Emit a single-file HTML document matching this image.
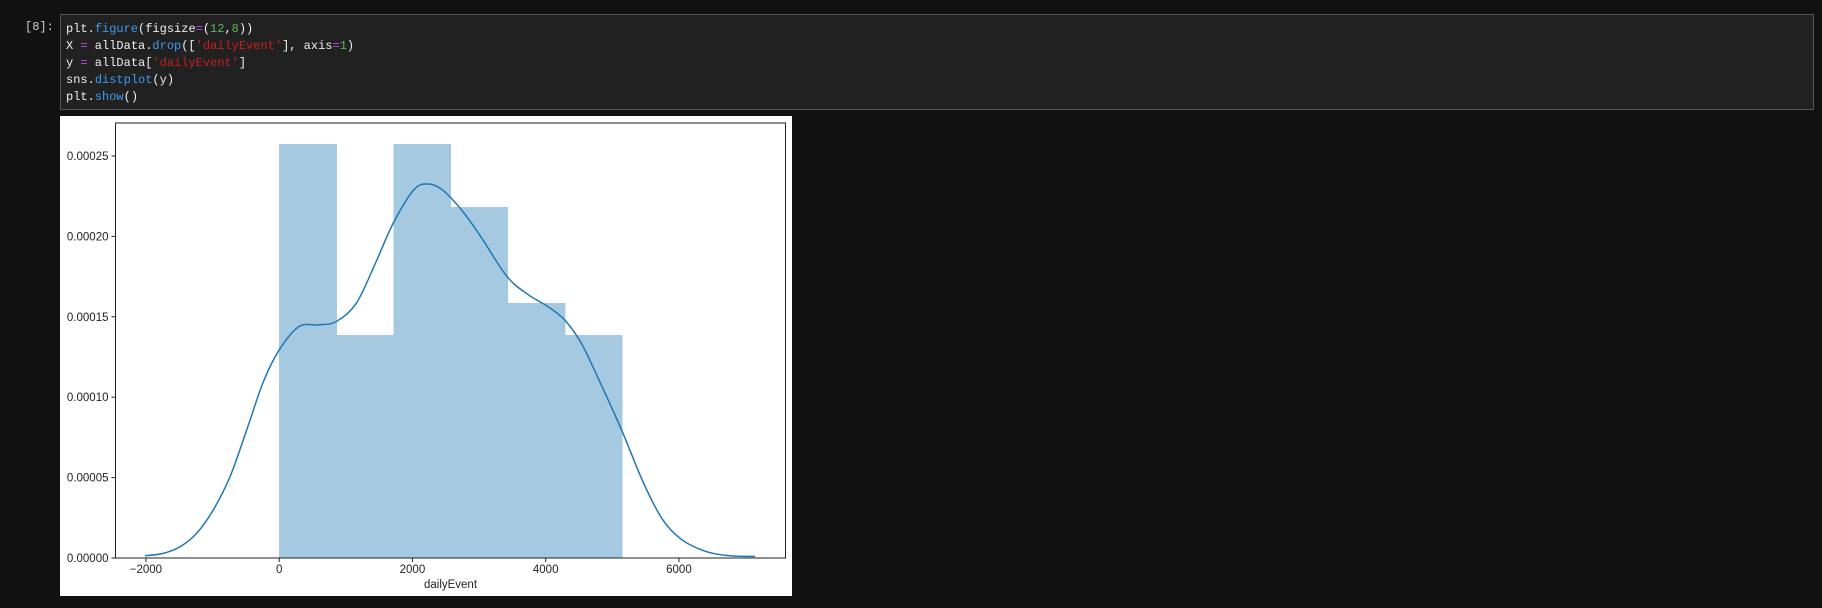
<!DOCTYPE html>
<html><head><meta charset="utf-8"><style>
html,body{margin:0;padding:0;background:#111111;width:1822px;height:608px;overflow:hidden}
.prompt{position:absolute;left:25px;top:20px;font:12px "Liberation Mono",monospace;color:#cccccc}
.code{position:absolute;left:60px;top:14px;width:1754px;height:96px;background:#212121;border:1px solid #555;box-sizing:border-box;font:12px "Liberation Mono",monospace;color:#f0f0f0;padding:6px 0 0 5px;line-height:17px;white-space:pre}
.f{color:#3b9df0}.o{color:#c04cf0}.n{color:#5cb85c}.s{color:#c82020}
svg{position:absolute;left:0;top:0}
</style></head><body>
<div class="prompt">[8]:</div>
<div class="code">plt.<span class="f">figure</span>(figsize<span class="o">=</span>(<span class="n">12</span>,<span class="n">8</span>))
X <span class="o">=</span> allData.<span class="f">drop</span>([<span class="s">'dailyEvent'</span>], axis<span class="o">=</span><span class="n">1</span>)
y <span class="o">=</span> allData[<span class="s">'dailyEvent'</span>]
sns.<span class="f">distplot</span>(y)
plt.<span class="f">show</span>()</div>
<svg width="1822" height="608" id="chart">
<rect x="60" y="116" width="732" height="480" fill="#fff"/>
<g id="bars" shape-rendering="crispEdges"></g><g id="kde"></g><g id="axes"></g>
</svg>
<script>
const binEdges=[0,857,1714,2571,3428,4285,5142];
const binHeights=[0.0002575,0.0001387,0.0002575,0.0002183,0.0001586,0.0001387];
const kdeX=[-2014,-1740,-1489,-1238,-989,-738,-488,-238,0,295,582,855,1157,1444,1710,2019,2235,2450,2738,3025,3420,3744,4031,4283,4534,4822,5138,5469,5756,6043,6403,6762,7143];
const kdeY=[1.4e-6,2.9e-6,7.0e-6,1.54e-5,2.99e-5,5.06e-5,7.96e-5,1.096e-4,1.294e-4,1.439e-4,1.45e-4,1.47e-4,1.584e-4,1.833e-4,2.081e-4,2.289e-4,2.326e-4,2.289e-4,2.164e-4,1.999e-4,1.75e-4,1.636e-4,1.564e-4,1.481e-4,1.336e-4,1.087e-4,7.97e-5,4.66e-5,2.38e-5,1.14e-5,4.1e-6,1.4e-6,1.0e-6];
const xTicks=[-2000,0,2000,4000,6000];
const yTicks=[0,0.00005,0.0001,0.00015,0.0002,0.00025];
const yLabels=["0.00000","0.00005","0.00010","0.00015","0.00020","0.00025"];
const NS="http://www.w3.org/2000/svg";
const L=115.5,R=785.5,T=123,B=558;
const sx=v=>279.2+v*(133.25/2000);
const sy=v=>B-v*(80.4/0.00005);
function mk(tag,attrs,parent){const e=document.createElementNS(NS,tag);for(const k in attrs)e.setAttribute(k,attrs[k]);parent.appendChild(e);return e;}
const gb=document.getElementById('bars');
binHeights.forEach((h,i)=>{
 const r=mk('rect',{x:sx(binEdges[i]),y:sy(h),width:sx(binEdges[i+1])-sx(binEdges[i])+0.6,height:B-sy(h),fill:'#a5c9e1'},gb);
 
 
});
const gk=document.getElementById('kde');
let pts=[];for(let i=0;i<kdeX.length;i++)pts.push([sx(kdeX[i]),sy(kdeY[i])]);
let d='M'+pts[0][0]+','+pts[0][1];
for(let i=0;i<pts.length-1;i++){const p0=pts[Math.max(0,i-1)],p1=pts[i],p2=pts[i+1],p3=pts[Math.min(pts.length-1,i+2)];
 d+=' C'+(p1[0]+(p2[0]-p0[0])/6)+','+(p1[1]+(p2[1]-p0[1])/6)+' '+(p2[0]-(p3[0]-p1[0])/6)+','+(p2[1]-(p3[1]-p1[1])/6)+' '+p2[0]+','+p2[1];}
const kp=mk('path',{d:d,fill:'none',stroke:'#1f77b4','stroke-width':1.5},gk);


const ga=document.getElementById('axes');
const fr=mk('rect',{x:L,y:T,width:R-L,height:B-T,fill:'none',stroke:'#222','stroke-width':1},ga);


xTicks.forEach(v=>{const x=sx(v);
 mk('line',{x1:x,x2:x,y1:B,y2:B+4,stroke:'#222'},ga);
 const t=mk('text',{x:x,y:B+15,'text-anchor':'middle','font-family':'Liberation Sans, sans-serif','font-size':11.5,fill:'#222'},ga);
 t.textContent=(v<0?'\u2212':'')+Math.abs(v);
 
 
});
yTicks.forEach((v,i)=>{const y=sy(v);
 mk('line',{x1:L-4,x2:L,y1:y,y2:y,stroke:'#222'},ga);
 const t=mk('text',{x:L-7,y:y+4,'text-anchor':'end','font-family':'Liberation Sans, sans-serif','font-size':11.5,fill:'#222'},ga);
 t.textContent=yLabels[i];
 
 
});
const xl=mk('text',{x:(L+R)/2,y:B+30,'text-anchor':'middle','font-family':'Liberation Sans, sans-serif','font-size':11.5,fill:'#222'},ga);
xl.textContent='dailyEvent';


</script>
</body></html>
